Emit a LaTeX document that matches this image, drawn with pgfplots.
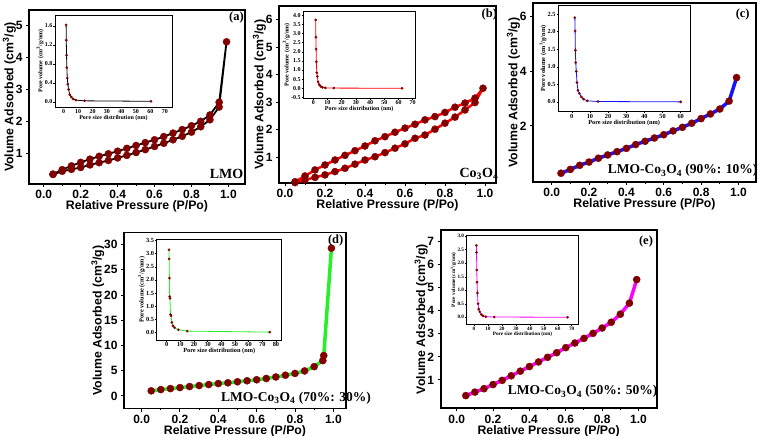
\documentclass[border=0pt]{standalone}
\usepackage{pgfplots}
\pgfplotsset{compat=1.18}
\usepackage{fontspec}
\setmainfont{Liberation Sans}
\newfontfamily\tnr{Liberation Serif}
\definecolor{dred}{RGB}{130,0,0}
\definecolor{lgreen}{RGB}{40,240,40}
\definecolor{mag}{RGB}{255,0,255}
\definecolor{bl}{RGB}{20,20,255}
\pgfplotsset{
  mainax/.style={
    scale only axis, anchor=north west,
    axis line style={line width=1.8pt},
    tick style={line width=1pt,black},
    tick align=outside, major tick length=3pt, minor tick length=1.8pt,
    xtick pos=bottom, ytick pos=left,
    minor x tick num=1,
    xtick={0,0.2,0.4,0.6,0.8,1.0},
    xticklabel style={/pgf/number format/.cd,fixed,fixed zerofill,precision=1},
    /pgf/number format/assume math mode=true,
    ticklabel style={font=\fontsize{12}{14}\selectfont\bfseries},
    label style={font=\fontsize{12.3}{14}\selectfont\bfseries},
    xlabel={Relative Pressure (P/Po)},
    ylabel={Volume Adsorbed (cm\textsuperscript{3}/g)},
    xlabel style={yshift=5pt},
    ylabel style={yshift=-7pt},
  },
  inax/.style={
    scale only axis, anchor=north west,
    axis background/.style={fill=white},
    axis line style={line width=0.8pt},
    tick style={line width=0.5pt,black},
    tick align=outside, major tick length=1.5pt,
    xtick pos=bottom, ytick pos=left,
    /pgf/number format/assume math mode=true,
    ticklabel style={font=\fontsize{#1}{7}\selectfont\tnr\bfseries, inner sep=1pt},
    yticklabel style={/pgf/number format/.cd,fixed,fixed zerofill,precision=1},
    label style={font=\fontsize{#1}{7}\selectfont\tnr\bfseries, inner sep=1pt},
    xlabel={Pore size distribution (nm)},
    ylabel={Pore volume (cm\textsuperscript{3}/g/nm)},
    xlabel style={yshift=1pt}, ylabel style={yshift=-1pt},
    xtick distance=10,
  },
  mainmk/.style={mark=*, mark size=3.6pt, mark options={fill=dred,draw=dred,solid,line width=0.3pt}},
  inmk/.style={mark=*, mark size=1.25pt, mark options={fill=dred,draw=dred,solid,line width=0.2pt}},
}
\begin{document}
\begin{tikzpicture}
\path[use as bounding box] (0pt,0pt) rectangle (760pt,436pt);

% ---------------- (a) LMO
\begin{axis}[mainax, at={(29pt,426pt)}, width=216pt, height=174pt,
  xmin=-0.08, xmax=1.09, ymin=0.03, ymax=5.5, ytick={1,2,3,4,5}]
\addplot[black, line width=1.8pt, mainmk] coordinates {
(0.05,0.33)(0.1,0.43)(0.15,0.49)(0.2,0.55)(0.25,0.63)(0.3,0.70)(0.35,0.77)(0.4,0.85)(0.45,0.93)(0.5,1.02)(0.55,1.11)(0.6,1.21)(0.65,1.31)(0.7,1.42)(0.75,1.53)(0.8,1.66)(0.85,1.83)(0.9,2.05)(0.95,2.45)(0.99,4.5)
(0.95,2.6)(0.9,2.2)(0.85,2.0)(0.8,1.86)(0.75,1.74)(0.7,1.63)(0.65,1.52)(0.6,1.42)(0.55,1.33)(0.5,1.24)(0.45,1.15)(0.4,1.06)(0.35,0.98)(0.3,0.9)(0.25,0.81)(0.2,0.71)(0.15,0.6)(0.1,0.48)(0.05,0.34)};
\end{axis}
\begin{axis}[inax=6, at={(55pt,421pt)}, width=117pt, height=92pt,
  xmin=-6, xmax=75, ymin=-0.11, ymax=1.83, ytick={0,0.4,0.8,1.2,1.6}]
\addplot[black, line width=0.8pt, inmk] coordinates {
(1.7,1.62)(1.8,1.3)(2.0,0.98)(2.2,0.72)(2.5,0.5)(2.9,0.37)(3.4,0.26)(4.2,0.15)(5.3,0.1)(6.5,0.06)(8.5,0.035)(14.5,0.02)(60.5,0.01)};
\end{axis}
\node[font=\fontsize{12.5}{14}\selectfont\tnr\bfseries] at (236.5pt,418pt) {(a)};
\node[font=\fontsize{14}{16}\selectfont\tnr\bfseries] at (226.5pt,262.5pt) {LMO};

% ---------------- (b) Co3O4
\begin{axis}[mainax, at={(279pt,430pt)}, width=217pt, height=177pt,
  xmin=-0.03, xmax=1.055, ymin=0.065, ymax=6.5, ytick={1,2,3,4,5,6}]
\addplot[red, line width=2.5pt, mainmk] coordinates {
(0.05,0.08)(0.1,0.18)(0.15,0.27)(0.2,0.36)(0.25,0.48)(0.3,0.6)(0.35,0.75)(0.4,0.9)(0.45,1.02)(0.5,1.17)(0.55,1.33)(0.6,1.49)(0.65,1.69)(0.7,1.81)(0.75,2.02)(0.8,2.24)(0.85,2.46)(0.9,2.72)(0.95,2.99)(0.99,3.51)
(0.95,3.15)(0.9,2.97)(0.85,2.82)(0.8,2.63)(0.75,2.48)(0.7,2.36)(0.65,2.2)(0.6,2.06)(0.55,1.91)(0.5,1.75)(0.45,1.6)(0.4,1.41)(0.35,1.24)(0.3,1.07)(0.25,0.9)(0.2,0.72)(0.15,0.54)(0.1,0.32)(0.05,0.11)};
\end{axis}
\begin{axis}[inax=6, at={(303.3pt,424.3pt)}, width=111.7pt, height=86.6pt,
  xmin=-7, xmax=71.6, ymin=-0.55, ymax=4.2, ytick={-0.5,0,0.5,1,1.5,2,2.5,3,3.5,4}]
\addplot[red, line width=0.8pt, inmk] coordinates {
(1.7,3.75)(1.85,2.8)(2.0,2.15)(2.2,1.45)(2.5,0.85)(2.9,0.65)(3.4,0.35)(4.2,0.2)(5.3,0.1)(6.5,0.05)(8.5,0.02)(14.5,0.01)(62.5,0.0)};
\end{axis}
\node[font=\fontsize{12.5}{14}\selectfont\tnr\bfseries] at (489.3pt,421pt) {(b)};
\node[font=\fontsize{14}{16}\selectfont\tnr\bfseries] at (479pt,262pt) {Co\textsubscript{3}O\textsubscript{4}};

% ---------------- (c) 90:10
\begin{axis}[mainax, at={(533pt,433pt)}, width=223pt, height=179pt,
  xmin=-0.1, xmax=1.094, ymin=-0.05, ymax=6.5, ytick={2,4,6}]
\addplot[bl, line width=3.5pt, mainmk] coordinates {
(0.05,0.27)(0.1,0.41)(0.15,0.56)(0.2,0.68)(0.25,0.82)(0.3,0.94)(0.35,1.06)(0.4,1.18)(0.45,1.32)(0.5,1.44)(0.55,1.56)(0.6,1.68)(0.65,1.82)(0.7,1.95)(0.75,2.1)(0.8,2.27)(0.85,2.44)(0.9,2.62)(0.95,2.91)(0.99,3.77)};
\end{axis}
\begin{axis}[inax=6.3, at={(558.3pt,431pt)}, width=131.7pt, height=106.7pt,
  xmin=-7.4, xmax=65.1, ymin=-0.28, ymax=2.76, ytick={0,0.5,1,1.5,2,2.5}]
\addplot[bl, line width=0.8pt, inmk] coordinates {
(1.7,2.4)(1.85,2.02)(2.0,1.47)(2.2,1.12)(2.5,0.87)(2.9,0.55)(3.4,0.33)(4.2,0.24)(5.3,0.14)(6.5,0.08)(8.5,0.03)(14.5,0.01)(60,0.0)};
\end{axis}
\node[font=\fontsize{12.5}{14}\selectfont\tnr\bfseries] at (742.7pt,421pt) {(c)};
\node[font=\fontsize{13.5}{16}\selectfont\tnr\bfseries] at (682.7pt,265.3pt) {LMO-Co\textsubscript{3}O\textsubscript{4} (90\%: 10\%)};

% ---------------- (d) 70:30
\begin{axis}[mainax, at={(124pt,203.5pt)}, width=222pt, height=176pt,
  xmin=-0.092, xmax=1.066, ymin=-2.5, ymax=32.4, ytick={0,5,10,15,20,25,30}]
\addplot[lgreen, line width=3.5pt, mainmk] coordinates {
(0.05,1.0)(0.1,1.25)(0.15,1.45)(0.2,1.65)(0.25,1.85)(0.3,2.05)(0.35,2.25)(0.4,2.45)(0.45,2.6)(0.5,2.8)(0.55,3.0)(0.6,3.2)(0.65,3.45)(0.7,3.75)(0.75,4.1)(0.8,4.45)(0.85,4.95)(0.9,5.8)(0.945,7.0)(0.95,8.0)(0.99,29.3)};
\end{axis}
\begin{axis}[inax=6.3, at={(156.7pt,196.7pt)}, width=125pt, height=100.7pt,
  xmin=-7.3, xmax=84.2, ymin=-0.29, ymax=3.55, ytick={0,0.5,1,1.5,2,2.5,3,3.5}]
\addplot[lgreen, line width=0.8pt, inmk] coordinates {
(1.7,3.15)(1.8,2.8)(2.0,2.07)(2.2,1.37)(2.4,1.3)(2.8,0.68)(3.2,0.63)(3.8,0.38)(4.6,0.25)(5.8,0.18)(8.5,0.1)(15,0.05)(75.5,0.01)};
\end{axis}
\node[font=\fontsize{12.5}{14}\selectfont\tnr\bfseries] at (335.7pt,196pt) {(d)};
\node[font=\fontsize{13.5}{16}\selectfont\tnr\bfseries] at (296pt,37.7pt) {LMO-Co\textsubscript{3}O\textsubscript{4} (70\%: 30\%)};

% ---------------- (e) 50:50
\begin{axis}[mainax, at={(440.7pt,206pt)}, width=216pt, height=178.3pt,
  xmin=-0.088, xmax=1.1, ymin=-0.23, ymax=7.5, ytick={1,2,3,4,5,6,7}]
\addplot[mag, line width=3.5pt, mainmk] coordinates {
(0.05,0.32)(0.1,0.47)(0.15,0.62)(0.2,0.8)(0.25,0.98)(0.3,1.18)(0.35,1.38)(0.4,1.58)(0.45,1.78)(0.5,1.98)(0.55,2.18)(0.6,2.4)(0.65,2.6)(0.7,2.8)(0.75,3.02)(0.8,3.25)(0.85,3.5)(0.9,3.85)(0.95,4.33)(0.99,5.35)};
\end{axis}
\begin{axis}[inax=5.2, at={(466.7pt,200.3pt)}, width=111.6pt, height=88.6pt,
  xmin=-5.2, xmax=74.7, ymin=-0.26, ymax=3.02, ytick={0,0.5,1,1.5,2,2.5,3}]
\addplot[mag, line width=0.8pt, inmk] coordinates {
(1.7,2.66)(1.85,2.4)(2.0,1.75)(2.2,1.3)(2.5,0.9)(2.9,0.5)(3.4,0.3)(4.2,0.2)(5.3,0.1)(6.5,0.05)(8.5,0.02)(14.5,0.01)(67,0.0)};
\end{axis}
\node[font=\fontsize{12.5}{14}\selectfont\tnr\bfseries] at (646pt,194.3pt) {(e)};
\node[font=\fontsize{13.5}{16}\selectfont\tnr\bfseries] at (582.7pt,44.3pt) {LMO-Co\textsubscript{3}O\textsubscript{4} (50\%: 50\%)};
\end{tikzpicture}
\end{document}
